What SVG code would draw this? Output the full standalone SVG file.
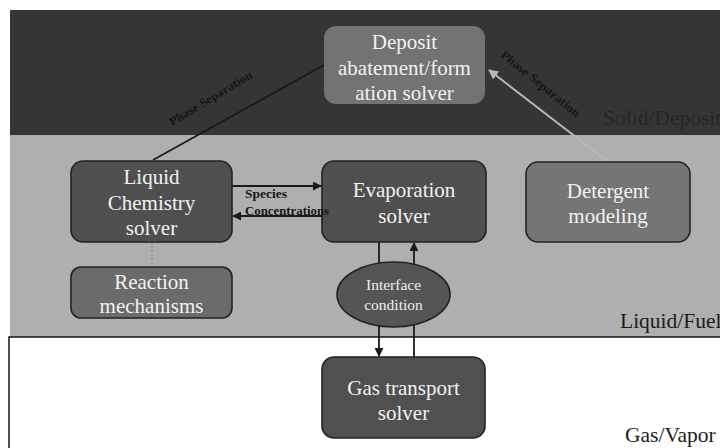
<svg xmlns="http://www.w3.org/2000/svg" width="720" height="448" viewBox="0 0 720 448">
  <style>
    text { font-family: 'Liberation Serif', 'DejaVu Serif', 'Times New Roman', serif; }
    .box { stroke: #222; stroke-width: 1.6; }
    .lbl { font-size: 21px; fill: #f2f2f2; text-anchor: middle; }
    .small { font-size: 15.5px; fill: #eeeeee; text-anchor: middle; }
    .region { font-size: 21.5px; fill: #1c1c1c; }
    .edge { font-size: 12px; font-weight: bold; fill: #161616; }
    .wire { stroke: #1a1a1a; stroke-width: 1.8; fill: none; }
  </style>
  <defs>
    <marker id="head" viewBox="0 0 10 10" refX="9" refY="5" markerWidth="5" markerHeight="5" orient="auto">
      <path d="M0,0 L10,5 L0,10 z" fill="#1a1a1a"/>
    </marker>
    <marker id="headLight" viewBox="0 0 10 10" refX="9" refY="5" markerWidth="5" markerHeight="5" orient="auto">
      <path d="M0,0 L10,5 L0,10 z" fill="#b8b8b8"/>
    </marker>
  </defs>

  <!-- phase bands -->
  <rect x="0" y="0" width="720" height="448" fill="#ffffff"/>
  <rect x="10" y="10" width="710" height="125" fill="#353535"/>
  <rect x="10" y="135" width="710" height="202" fill="#afafaf"/>
  <rect x="9" y="337" width="720" height="130" fill="#ffffff" stroke="#222" stroke-width="1.6"/>

  <text class="region" x="603" y="125" style="fill:#262626">Solid/Deposit</text>
  <text class="region" x="620" y="328">Liquid/Fuel</text>
  <text class="region" x="625" y="442">Gas/Vapor</text>

  <!-- connectors -->
  <g id="connectors">
    <line class="wire" x1="153" y1="160" x2="324" y2="65"/>
    <line x1="607" y1="161" x2="489" y2="70" stroke="#b8b8b8" stroke-width="2" marker-end="url(#headLight)"/>
    <line class="wire" x1="232" y1="186" x2="321" y2="186" marker-end="url(#head)"/>
    <line class="wire" x1="322" y1="216" x2="233" y2="216" marker-end="url(#head)"/>
    <line x1="152" y1="242" x2="152" y2="267" stroke="#888" stroke-width="1.2" stroke-dasharray="2 2"/>
    <line class="wire" x1="379" y1="242" x2="379" y2="356" marker-end="url(#head)"/>
    <line class="wire" x1="414" y1="357" x2="414" y2="243" marker-end="url(#head)"/>
  </g>

  <!-- nodes -->
  <g id="deposit">
    <rect x="324" y="26" width="161" height="78" rx="12" fill="#737373"/>
    <text class="lbl" x="404.5" y="49">Deposit</text>
    <text class="lbl" x="404.5" y="75">abatement/form</text>
    <text class="lbl" x="404.5" y="100">ation solver</text>
  </g>
  <g id="liquid-chemistry">
    <rect class="box" x="71" y="161" width="161" height="81" rx="12" fill="#4f4f4f"/>
    <text class="lbl" x="151.5" y="184">Liquid</text>
    <text class="lbl" x="151.5" y="210">Chemistry</text>
    <text class="lbl" x="151.5" y="235">solver</text>
  </g>
  <g id="evaporation">
    <rect class="box" x="322" y="161" width="164" height="81" rx="12" fill="#4f4f4f"/>
    <text class="lbl" x="404" y="197">Evaporation</text>
    <text class="lbl" x="404" y="223">solver</text>
  </g>
  <g id="detergent">
    <rect class="box" x="526" y="162" width="164" height="80" rx="12" fill="#757575"/>
    <text class="lbl" x="608" y="198">Detergent</text>
    <text class="lbl" x="608" y="223">modeling</text>
  </g>
  <g id="reaction">
    <rect class="box" x="71" y="267" width="161" height="51" rx="10" fill="#6b6b6b"/>
    <text class="lbl" x="151.5" y="289">Reaction</text>
    <text class="lbl" x="151.5" y="313">mechanisms</text>
  </g>
  <g id="interface">
    <ellipse class="box" cx="393.5" cy="294.5" rx="56.5" ry="32.5" fill="#555555"/>
    <text class="small" x="393.5" y="290">Interface</text>
    <text class="small" x="393.5" y="310">condition</text>
  </g>
  <g id="gas-transport">
    <rect class="box" x="322" y="357" width="163" height="81" rx="12" fill="#505050"/>
    <text class="lbl" x="403.5" y="395">Gas transport</text>
    <text class="lbl" x="403.5" y="420">solver</text>
  </g>

  <!-- connector labels, on top of the boxes -->
  <g id="connector-labels">
    <text class="edge" transform="translate(172,126) rotate(-31)" textLength="95" lengthAdjust="spacingAndGlyphs">Phase Separation</text>
    <text class="edge" transform="translate(500,56) rotate(39)" textLength="98" lengthAdjust="spacingAndGlyphs">Phase Separation</text>
    <text class="edge" x="245" y="198" textLength="42" lengthAdjust="spacingAndGlyphs">Species</text>
    <text class="edge" x="245" y="215" textLength="84" lengthAdjust="spacingAndGlyphs">Concentrations</text>
  </g>
</svg>
